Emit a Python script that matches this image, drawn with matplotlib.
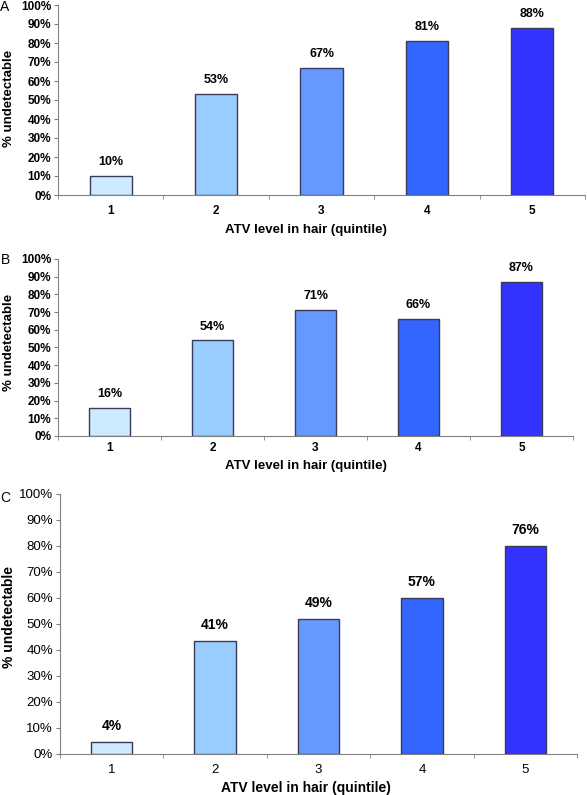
import numpy as np
import matplotlib
matplotlib.use('Agg')
import matplotlib.pyplot as plt

plt.rcParams['font.family'] = ['Liberation Sans', 'DejaVu Sans']

quintiles = ['1', '2', '3', '4', '5']
bar_colors = ['#CCEBFF', '#99CCFF', '#6699FF', '#3366FF', '#3333FF']

# panel A
a_values = [10, 53, 67, 81, 88]
a_labels = ['10%', '53%', '67%', '81%', '88%']
# panel B
b_values = [16, 54, 71, 66, 87]
b_labels = ['16%', '54%', '71%', '66%', '87%']
# panel C (bar heights as drawn differ from printed labels)
c_values = [4.5, 43.5, 52, 60, 80]
c_labels = ['4%', '41%', '49%', '57%', '76%']

W, H = 587, 795
fig = plt.figure(figsize=(W / 100, H / 100), dpi=100)


def px_axes(left, right, top, bottom):
    return fig.add_axes([left / W, 1 - bottom / H, (right - left) / W, (bottom - top) / H])


def draw_panel(ax, values, labels, fs, lfs, tick_weight, lab_off, xpad):
    x = np.arange(1, len(values) + 1)
    ax.bar(x, values, width=0.4, color=bar_colors, edgecolor='#3a3a5a', linewidth=1.0, zorder=3)
    for xi, v, lab in zip(x, values, labels):
        ax.annotate(lab, (xi, v), xytext=(0, lab_off), textcoords='offset points',
                    ha='center', va='center', fontsize=lfs, fontweight='bold')
    ax.set_xlim(0.5, len(values) + 0.5)
    ax.set_ylim(0, 100)
    ax.set_yticks(np.arange(0, 101, 10))
    ax.set_yticklabels(['%d%%' % t for t in range(0, 101, 10)], fontsize=fs, fontweight=tick_weight)
    ax.set_xticks(x)
    ax.set_xticklabels(quintiles, fontsize=fs, fontweight=tick_weight)
    ax.set_xticks(np.arange(0.5, len(values) + 1, 1), minor=True)
    ax.tick_params(axis='x', which='major', length=0, pad=xpad)
    ax.tick_params(axis='x', which='minor', length=3, color='#808080')
    ax.tick_params(axis='y', length=3, color='#808080', pad=2)
    for s in ['top', 'right']:
        ax.spines[s].set_visible(False)
    for s in ['left', 'bottom']:
        ax.spines[s].set_color('#808080')


axA = px_axes(58, 585, 5, 195)
draw_panel(axA, a_values, a_labels, 8.5, 9, 'bold', 10, 7)
axB = px_axes(58, 573, 259, 436)
draw_panel(axB, b_values, b_labels, 8.5, 9, 'bold', 10, 4)
axC = px_axes(60, 577, 494, 754)
draw_panel(axC, c_values, c_labels, 9.5, 10, 'normal', 11.5, 7)

# axis titles and panel letters
for yc, yl, fs in [(230, 98, 9.5), (466, 342, 9.5), (788, 617, 10)]:
    fig.text(306 / W, 1 - yc / H, 'ATV level in hair (quintile)', ha='center', va='center',
             fontsize=fs, fontweight='bold')
    fig.text(9 / W, 1 - yl / H, '% undetectable', ha='center', va='center', rotation=90,
             fontsize=fs, fontweight='bold')

for letter, yc in [('A', 7), ('B', 260), ('C', 498)]:
    fig.text(5 / W, 1 - yc / H, letter, ha='center', va='center', fontsize=10)

fig.savefig('out.png', dpi=100)
